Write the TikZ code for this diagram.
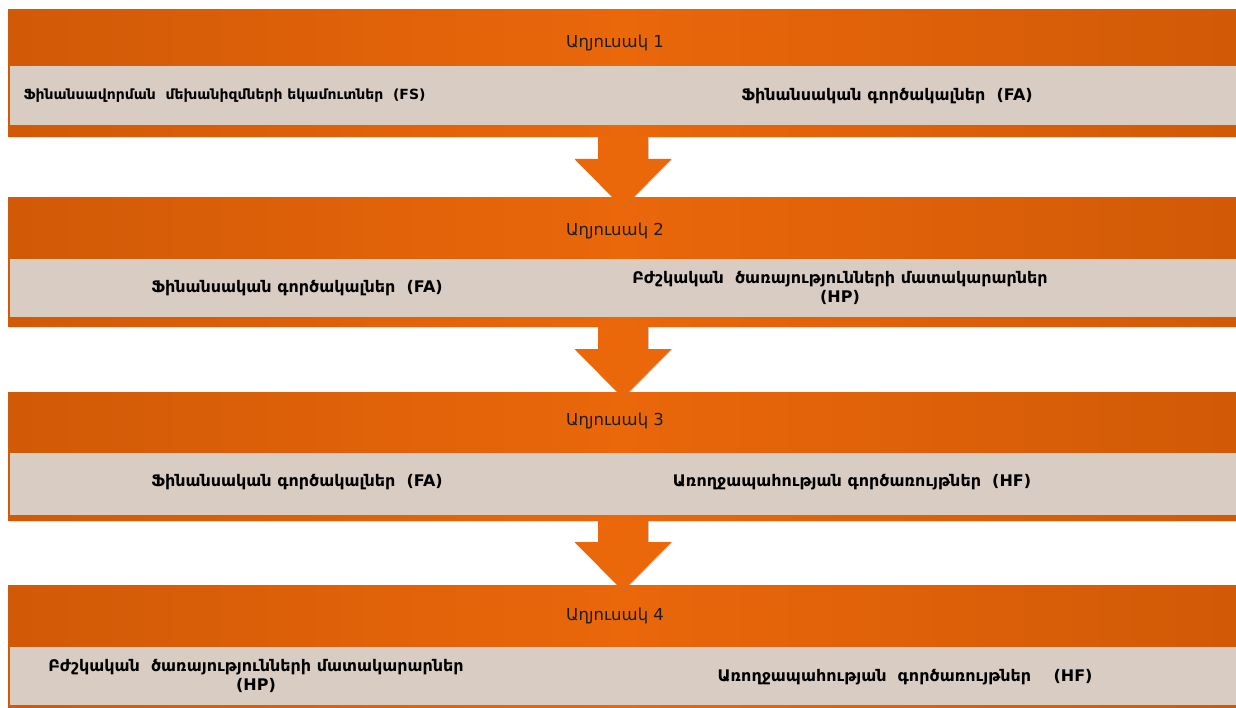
\documentclass[tikz,border=0pt]{standalone}
\usepackage{fontspec}
\setmainfont{DejaVu Sans}
\usetikzlibrary{calc,shadows}
\definecolor{ordark}{HTML}{D15A07}
\definecolor{orbright}{HTML}{EA670A}
\definecolor{bandgray}{HTML}{D9CCC3}
\definecolor{titletext}{HTML}{1E1E1E}
\tikzset{
  band/.style={draw=none, left color=ordark, right color=ordark, middle color=orbright},
  strip/.style={draw=none, fill=bandgray},
  titlelbl/.style={font=\fontsize{16.5}{19}\selectfont, text=titletext, anchor=center},
  celllbl/.style={font=\bfseries\fontsize{16}{19}\selectfont, text=black, anchor=center, align=center},
  downarrow/.style={fill=orbright, draw=none, drop shadow={opacity=0.35, shadow xshift=0.8pt, shadow yshift=-0.8pt}},
}
\begin{document}
\begin{tikzpicture}[x=1pt,y=-1pt]
\useasboundingbox (0,0) rectangle (1236,708);
% bands
\foreach \i/\top/\bot/\gtop/\gbot in {1/10/137/66/125, 2/198/327/259/317, 3/392/520/453/515, 4/585/710/647/705}{
  \fill[black,opacity=0.12] (9,\top+1.5) rectangle (1236,\bot+1.5);
  \path[band] (8,\top) rectangle (1236,\bot);
  \path[strip] (10,\gtop) rectangle (1236,\gbot);
  \coordinate (b\i) at (623,\bot);
}
% arrows
\foreach \i in {1,2,3}{
  \path[downarrow] ($(b\i)+(-25,0)$) -- ($(b\i)+(25,0)$) -- ($(b\i)+(25,22)$) -- ($(b\i)+(48.5,22)$)
     -- ($(b\i)+(0,71)$) -- ($(b\i)+(-48.5,22)$) -- ($(b\i)+(-25,22)$) -- cycle;
}
% titles
\node[titlelbl] (t1) at (615,43) {Աղյուսակ 1};
\node[titlelbl] (t2) at (615,231) {Աղյուսակ 2};
\node[titlelbl] (t3) at (615,421) {Աղյուսակ 3};
\node[titlelbl] (t4) at (615,616) {Աղյուսակ 4};
% cells
\node[celllbl, anchor=west, font=\bfseries\fontsize{14}{17}\selectfont] (c1l) at (20,96) {Ֆինանսավորման \ մեխանիզմների եկամուտներ \ (FS)};
\node[celllbl] (c1r) at (887,96) {Ֆինանսական գործակալներ \ (FA)};
\node[celllbl] (c2l) at (297,288) {Ֆինանսական գործակալներ \ (FA)};
\node[celllbl] (c2r) at (840,288) {Բժշկական \ ծառայությունների մատակարարներ\\(HP)};
\node[celllbl] (c3l) at (297,482) {Ֆինանսական գործակալներ \ (FA)};
\node[celllbl] (c3r) at (852,482) {Առողջապահության գործառույթներ \ (HF)};
\node[celllbl] (c4l) at (256,676) {Բժշկական \ ծառայությունների մատակարարներ\\(HP)};
\node[celllbl] (c4r) at (905,677) {Առողջապահության \ գործառույթներ \ \ \ (HF)};
\end{tikzpicture}
\end{document}
